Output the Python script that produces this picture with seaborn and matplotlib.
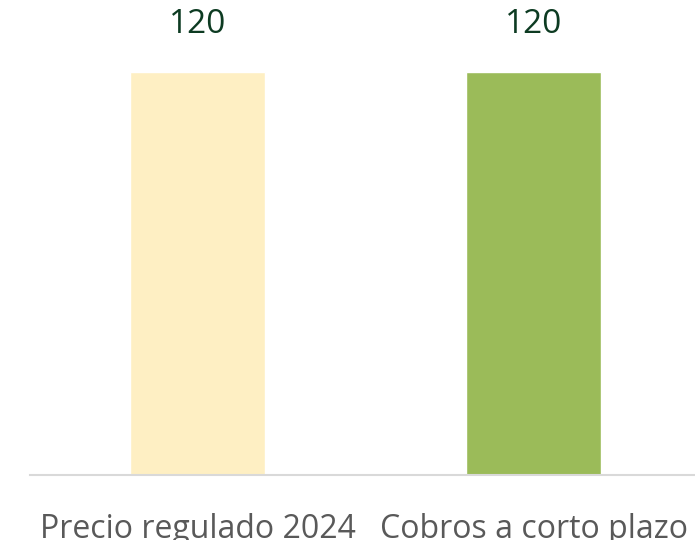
import seaborn as sns
import matplotlib.pyplot as plt
import pandas as pd

categories = ['Precio regulado 2024', 'Cobros a corto plazo']
values = [120, 120]
bar_colors = ['#FEEFC3', '#9BBB59']

sns.set_style("white")
plt.rcParams['font.family'] = ['Open Sans', 'DejaVu Sans']

df = pd.DataFrame({'cat': categories, 'val': values})

fig = plt.figure(figsize=(6.95, 5.4), dpi=100)
ax = fig.add_axes([30 / 695, 65 / 540, 665 / 695, 475 / 540])
sns.barplot(data=df, x='cat', y='val', hue='cat', palette=bar_colors,
            width=0.4, legend=False, ax=ax, saturation=1)

# value labels above the bars
for p, v in zip(ax.patches, values):
    ax.annotate('%d' % v, (p.get_x() + p.get_width() / 2, p.get_height()),
                xytext=(0, 22), textcoords='offset points',
                ha='center', va='bottom', fontsize=24, color='#0D3B22')

ax.set_xlim(-0.4985, 1.48)
ax.set_ylim(0, 120 * 475 / 403)
ax.set_yticks([])
ax.set_xlabel('')
ax.set_ylabel('')
ax.tick_params(axis='x', length=0, pad=27, labelsize=23, labelcolor='#595959')
sns.despine(ax=ax, left=True, top=True, right=True)
ax.spines['bottom'].set_color('#D9D9D9')
ax.spines['bottom'].set_linewidth(1.5)

fig.savefig('out.png', dpi=100)
